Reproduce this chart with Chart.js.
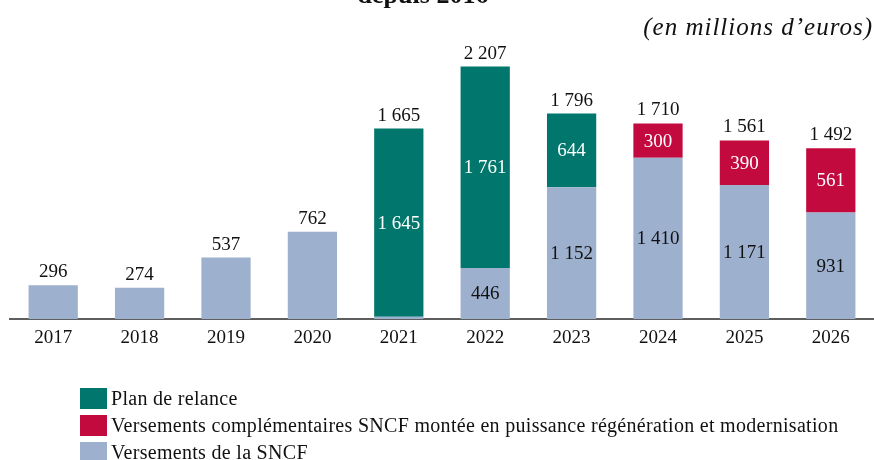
<!DOCTYPE html>
<html>
<head>
<meta charset="utf-8">
<script src="https://cdn.jsdelivr.net/npm/chart.js@4/dist/chart.umd.min.js"></script>
<style>
	html, body { margin: 0; padding: 0; background: #fff; }
	#wrap { position: relative; width: 874px; height: 460px; overflow: hidden; }
	#legend { position: absolute; left: 80px; top: 385px; font-family: "Liberation Serif", serif; font-size: 20px; letter-spacing: 0.3px; color: #111; }
	#legend div { display: flex; align-items: center; height: 27px; }
	#legend span.box { display: inline-block; width: 27px; height: 21px; margin-right: 4px; }
</style>
</head>
<body>
<div id="wrap">
	<canvas id="myChart" width="874" height="460"></canvas>
	<div id="legend"></div>
</div>
<script>
// Data
const years = ["2017", "2018", "2019", "2020", "2021", "2022", "2023", "2024", "2025", "2026"];
const sncf = [296, 274, 537, 762, 20, 446, 1152, 1410, 1171, 931];
const relance = [0, 0, 0, 0, 1645, 1761, 644, 0, 0, 0];
const complements = [0, 0, 0, 0, 0, 0, 0, 300, 390, 561];

const FONT = "Liberation Serif";

function fmt(v) {
	return String(v).replace(/\B(?=(\d{3})+(?!\d))/g, " ");
}

// Value labels inside segments and totals on top
const labelsPlugin = {
	id: "labels",
	afterDatasetsDraw(chart) {
		const ctx = chart.ctx;
		ctx.save();
		ctx.font = "19px '" + FONT + "'";
		ctx.textAlign = "center";
		ctx.textBaseline = "middle";
		years.forEach((y, i) => {
			let parts = 0;
			chart.data.datasets.forEach((ds) => { if (ds.data[i] > 0) parts++; });
			let topY = null;
			chart.data.datasets.forEach((ds, di) => {
				const bar = chart.getDatasetMeta(di).data[i];
				const v = ds.data[i];
				if (!v) return;
				if (topY === null || bar.y < topY) topY = bar.y;
				if (parts > 1 && v > 50) {
					ctx.fillStyle = ds.labelColor;
					ctx.fillText(fmt(v), bar.x, (bar.y + bar.base) / 2 + 1);
				}
			});
			const total = sncf[i] + relance[i] + complements[i];
			const x = chart.getDatasetMeta(0).data[i].x;
			ctx.fillStyle = "#111";
			ctx.fillText(fmt(total), x, topY - 13);
		});
		// title remnant and unit
		ctx.font = "bold 26px '" + FONT + "'";
		ctx.textBaseline = "alphabetic";
		ctx.fillText("depuis 2016", 423, 3);
		ctx.font = "italic 25px '" + FONT + "'";
		ctx.letterSpacing = "1px";
		ctx.textAlign = "right";
		ctx.fillText("(en millions d\u2019euros)", 873, 35);
		ctx.restore();
	},
};

const data = {
	labels: years,
	datasets: [
		{
			label: "Versements de la SNCF",
			data: sncf,
			backgroundColor: "#9DB0CE",
			labelColor: "#111",
		},
		{
			label: "Plan de relance",
			data: relance,
			backgroundColor: "#00766C",
			labelColor: "#fff",
		},
		{
			label: "Versements complémentaires SNCF montée en puissance régénération et modernisation",
			data: complements,
			backgroundColor: "#C20A3E",
			labelColor: "#fff",
		},
	],
};

const config = {
	type: "bar",
	data: data,
	options: {
		responsive: false,
		animation: false,
		layout: { padding: { left: 10, right: 0, top: 33, bottom: 0 } },
		datasets: {
			bar: {
				barPercentage: 0.57,
				categoryPercentage: 1,
				borderWidth: 0,
			},
		},
		plugins: {
			legend: { display: false },
			tooltip: { enabled: false },
		},
		scales: {
			x: {
				stacked: true,
				grid: { display: false, drawTicks: false },
				border: { color: "#5e5e5e", width: 2 },
				ticks: { color: "#111", font: { family: FONT, size: 19 }, padding: 8 },
				afterFit(scale) { scale.height = 141; },
			},
			y: {
				stacked: true,
				display: false,
				min: 0,
				max: 2500,
			},
		},
	},
	plugins: [labelsPlugin],
};

var myChart = new Chart(document.getElementById("myChart"), config);

// Legend, one item per line
const legendOrder = [1, 2, 0];
const legend = document.getElementById("legend");
legendOrder.forEach((di) => {
	const ds = data.datasets[di];
	const row = document.createElement("div");
	const box = document.createElement("span");
	box.className = "box";
	box.style.background = ds.backgroundColor;
	row.appendChild(box);
	row.appendChild(document.createTextNode(ds.label));
	legend.appendChild(row);
});
</script>
</body>
</html>
